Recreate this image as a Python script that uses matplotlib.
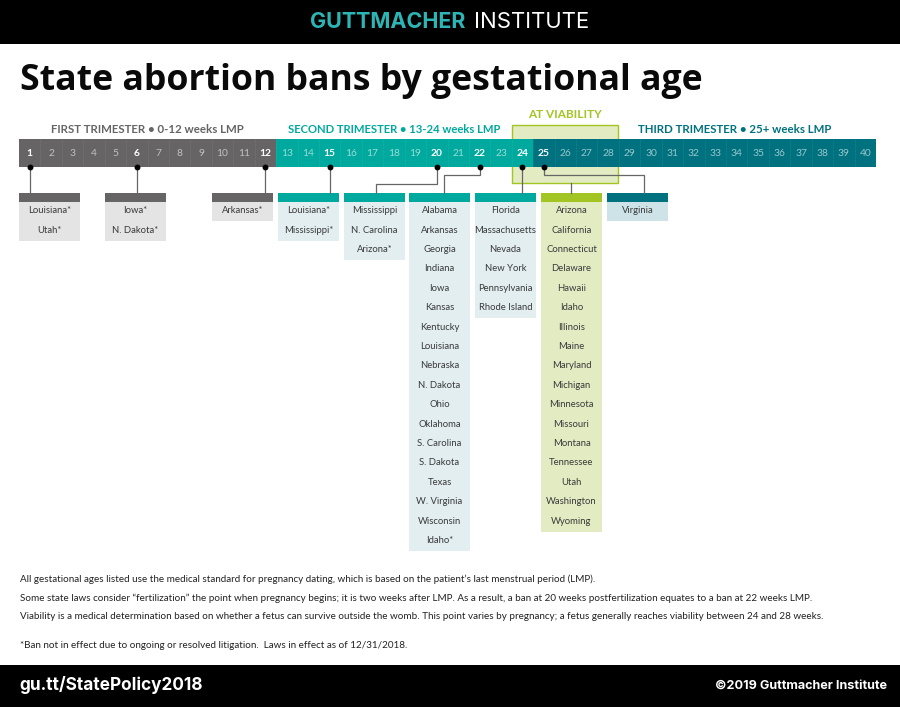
#!/usr/bin/env python3
import matplotlib
matplotlib.use("Agg")
import matplotlib.pyplot as plt
from matplotlib.patches import Rectangle

# -------------------------------
# DATA
# -------------------------------
weeks = list(range(1, 41))
bold_weeks = [1, 6, 12, 15, 20, 22, 24, 25]

week_1 = ["Louisiana*", "Utah*"]
week_6 = ["Iowa*", "N. Dakota*"]
week_12 = ["Arkansas*"]
week_15 = ["Louisiana*", "Mississippi*"]
week_20 = ["Mississippi", "N. Carolina", "Arizona*"]
week_22 = ["Alabama", "Arkansas", "Georgia", "Indiana", "Iowa", "Kansas", "Kentucky",
           "Louisiana", "Nebraska", "N. Dakota", "Ohio", "Oklahoma", "S. Carolina",
           "S. Dakota", "Texas", "W. Virginia", "Wisconsin", "Idaho*"]
week_24 = ["Florida", "Massachusetts", "Nevada", "New York", "Pennsylvania", "Rhode Island"]
viability = ["Arizona", "California", "Connecticut", "Delaware", "Hawaii", "Idaho", "Illinois",
             "Maine", "Maryland", "Michigan", "Minnesota", "Missouri", "Montana", "Tennessee",
             "Utah", "Washington", "Wyoming"]
week_25 = ["Virginia"]

notes = [
    "All gestational ages listed use the medical standard for pregnancy dating, which is based on the patient’s last menstrual period (LMP).",
    "Some state laws consider “fertilization” the point when pregnancy begins; it is two weeks after LMP. As a result, a ban at 20 weeks postfertilization equates to a ban at 22 weeks LMP.",
    "Viability is a medical determination based on whether a fetus can survive outside the womb. This point varies by pregnancy; a fetus generally reaches viability between 24 and 28 weeks.",
]
footnote = "*Ban not in effect due to ongoing or resolved litigation.  Laws in effect as of 12/31/2018."

# -------------------------------
# STYLE
# -------------------------------
GRAY = "#666465"
TEAL = "#00A99D"
DARK = "#00727F"
GREEN = "#A2C523"
NARROW = "Lato"
HEAVY = "Open Sans"
WIDE = "Inter"
TEXT = "#3A3A3A"

CELL = 21.425
LEFT = 19
BAR_TOP, BAR_BOTTOM = 139, 167
BOX_TOP, HEAD = 193, 9
ROW = 19.4


def week_x(w):
    return LEFT + (w - 0.5) * CELL


fig = plt.figure(figsize=(9, 7.07), dpi=100)
ax = fig.add_axes([0, 0, 1, 1])
ax.set_xlim(0, 900)
ax.set_ylim(707, 0)
ax.axis("off")


def rect(x0, y0, x1, y1, color, z=1, **kw):
    ax.add_patch(Rectangle((x0, y0), x1 - x0, y1 - y0, facecolor=color, edgecolor="none", zorder=z, **kw))


# -------------------------------
# HEADER / FOOTER
# -------------------------------
rect(0, 0, 900, 44, "black")
rect(0, 665, 900, 707, "black")
ax.text(310, 22.5, "GUTTMACHER", color="#2DB5B5", fontsize=15.5, family=WIDE, weight="bold",
        va="center", ha="left")
ax.text(474, 22.5, "INSTITUTE", color="white", fontsize=15.9, family=WIDE, va="center", ha="left")
ax.text(20, 81, "State abortion bans by gestational age", fontsize=25.7, family=HEAVY, weight="bold",
        color="#0a0a0a", va="center", ha="left")
ax.text(19, 685.5, "gu.tt/StatePolicy2018", color="white", fontsize=12.4, family=WIDE, weight="bold",
        va="center", ha="left")
ax.text(887, 686, "©2019 Guttmacher Institute", color="white", fontsize=9.1, family=WIDE, weight="bold",
        va="center", ha="right")

# -------------------------------
# VIABILITY BOX + WEEK BAR
# -------------------------------
ax.add_patch(Rectangle((512, 124.5), 106, 58.5, facecolor="#E3EBC3", edgecolor=GREEN, lw=1, zorder=1))
ax.text(565, 114, "AT VIABILITY", color=GREEN, fontsize=8.5, family="Lato", weight="bold", ha="center", va="center")
ax.text(147.5, 129.5, "FIRST TRIMESTER • 0-12 weeks LMP", color=GRAY, fontsize=8.3, family="Lato", weight="bold",
        ha="center", va="center")
ax.text(394, 129.5, "SECOND TRIMESTER • 13-24 weeks LMP", color=TEAL, fontsize=8.1, family="Lato", weight="bold",
        ha="center", va="center")
ax.text(735, 129.5, "THIRD TRIMESTER • 25+ weeks LMP", color=DARK, fontsize=8.3, family="Lato", weight="bold",
        ha="center", va="center")

for w in weeks:
    color = GRAY if w <= 12 else TEAL if w <= 24 else DARK
    x0 = week_x(w) - CELL / 2
    rect(x0, BAR_TOP, x0 + CELL, BAR_BOTTOM, color, z=2)
    if w > 1:
        ax.plot([x0, x0], [BAR_TOP, BAR_BOTTOM], color="white", lw=0.4, alpha=0.25, ls=":", zorder=3)
    is_bold = w in bold_weeks
    ax.text(week_x(w), 153.5, str(w), color="white", alpha=1 if is_bold else 0.6, fontsize=7.4,
            family="Lato", weight="bold" if is_bold else "normal", ha="center", va="center", zorder=4)

# -------------------------------
# STATE BOXES
# -------------------------------
groups = [
    (19, week_1, GRAY, "#E4E4E4"),
    (105, week_6, GRAY, "#E4E4E4"),
    (212, week_12, GRAY, "#E4E4E4"),
    (278, week_15, TEAL, "#E3EEF0"),
    (344, week_20, TEAL, "#E3EEF0"),
    (409, week_22, TEAL, "#E3EEF0"),
    (475, week_24, TEAL, "#E3EEF0"),
    (541, viability, GREEN, "#E3EBC3"),
    (607, week_25, DARK, "#CDE3E8"),
]
for x0, states, head, body in groups:
    rect(x0, BOX_TOP, x0 + 61, BOX_TOP + HEAD, head)
    rect(x0, BOX_TOP + HEAD, x0 + 61, BOX_TOP + HEAD + ROW * len(states), body)
    for i, s in enumerate(states):
        ax.text(x0 + 30.5, BOX_TOP + HEAD + ROW * (i + 0.45), s, color=TEXT, fontsize=6.8,
                family=NARROW, ha="center", va="center")

# -------------------------------
# CONNECTORS
# -------------------------------
LINE = dict(color="#666666", lw=0.9, zorder=5, solid_joinstyle="miter")
for w in [1, 6, 12, 15, 24]:
    ax.plot([week_x(w)] * 2, [BAR_BOTTOM, BOX_TOP], **LINE)
ax.plot([week_x(20), week_x(20), 376, 376], [BAR_BOTTOM, 183.5, 183.5, BOX_TOP], **LINE)
ax.plot([week_x(22), week_x(22), 444, 444], [BAR_BOTTOM, 175, 175, BOX_TOP], **LINE)
ax.plot([week_x(25), week_x(25), 644, 644], [BAR_BOTTOM, 175, 175, BOX_TOP], **LINE)
ax.plot([571, 571], [183, BOX_TOP], **LINE)
ax.scatter([week_x(w) for w in bold_weeks], [BAR_BOTTOM] * len(bold_weeks), s=18, color="black",
           linewidths=0, zorder=6)

# -------------------------------
# NOTES
# -------------------------------
for y, line in zip([579, 598, 616.5], notes):
    ax.text(19.5, y, line, color="#222222", fontsize=7.13, family=NARROW, ha="left", va="center")
ax.text(19.5, 645, footnote, color="#222222", fontsize=7.13, family=NARROW, ha="left", va="center")

fig.savefig("out.png", dpi=100)
